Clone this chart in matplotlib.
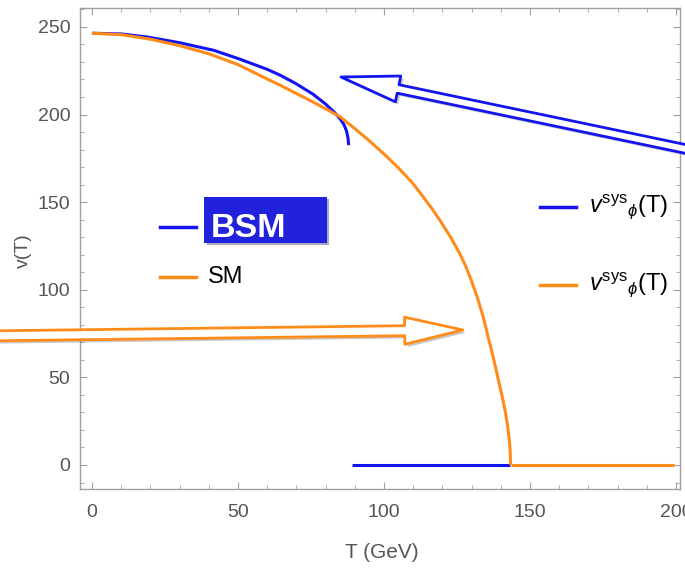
import matplotlib.pyplot as plt
import matplotlib.patheffects as pe
from matplotlib.patches import Rectangle
from matplotlib.ticker import MultipleLocator

# values
T_bsm = [0, 10, 18.7, 30, 41.6, 50, 60, 64.4, 70, 75.8, 80, 83, 85, 86.3, 87.2, 87.7, 87.9]
v_bsm = [246.4, 246.0, 244.3, 241.0, 236.7, 232.0, 225.8, 222.5, 217.5, 211.5, 206.0,
         201.3, 197.5, 194.3, 190.5, 186.5, 182.5]
T_bsm_zero = [89.2, 143.3]
v_bsm_zero = [0, 0]

T_sm = [0, 10, 20, 30, 40, 50, 60, 64.4, 70, 75, 80, 85, 90, 95, 100, 105, 110, 113,
        116.8, 120, 123, 126, 128, 130, 132, 134, 136, 137.5, 139, 140.5, 141.5, 142.3,
        142.9, 143.2, 143.4]
v_sm = [246.4, 245.6, 243.0, 239.3, 234.7, 228.5, 220.3, 216.8, 212.0, 207.8, 203.3,
        198.7, 192.0, 185.0, 177.5, 169.5, 160.5, 154.0, 145.5, 137.5, 129.5, 120.5,
        113.5, 105.0, 95.5, 84.5, 71.0, 61.0, 50.0, 39.0, 31.0, 23.0, 15.0, 9.0, 0]
T_sm_zero = [143.4, 199.5]
v_sm_zero = [0, 0]

blue = '#1414F0'
orange = '#FF8C1A'
grey = '#A0A0A0'

plt.rcParams['font.family'] = ['Liberation Sans', 'DejaVu Sans']
plt.rcParams['mathtext.fontset'] = 'custom'
plt.rcParams['mathtext.rm'] = 'Liberation Sans'
plt.rcParams['mathtext.it'] = 'Liberation Sans:italic'

fig = plt.figure(figsize=(6.85, 5.68), dpi=100)
ax = fig.add_axes([80 / 685, 1 - 489 / 568, 600 / 685, 481 / 568])

ax.plot(T_bsm, v_bsm, color=blue, lw=2.2, solid_capstyle='butt')
ax.plot(T_bsm_zero, v_bsm_zero, color=blue, lw=2.2, solid_capstyle='butt')
ax.plot(T_sm, v_sm, color=orange, lw=2.2, solid_capstyle='butt')
ax.plot(T_sm_zero, v_sm_zero, color=orange, lw=2.2, solid_capstyle='butt')

ax.set_xlim(-4.1, 201.4)
ax.set_ylim(-13.7, 260.8)
ax.xaxis.set_major_locator(MultipleLocator(50))
ax.xaxis.set_minor_locator(MultipleLocator(10))
ax.yaxis.set_major_locator(MultipleLocator(50))
ax.yaxis.set_minor_locator(MultipleLocator(10))
ax.tick_params(which='both', direction='in', top=True, right=True, color=grey,
               labelcolor='#555555', labelsize=14)
ax.tick_params(which='major', length=5, width=0.8)
ax.tick_params(which='minor', length=3, width=0.6)
ax.tick_params(axis='x', pad=11)
ax.tick_params(axis='y', pad=7)
for s in ax.spines.values():
    s.set_color(grey)
    s.set_linewidth(1.0)

fig.text(23, 568 - 251, 'v(T)', transform=None, rotation=90, ha='center', va='center',
         color='#555555', fontsize=14)
fig.text(382, 568 - 552, 'T (GeV)', transform=None, ha='center', va='center',
         color='#555555', fontsize=15)

# left legend
fig.add_artist(plt.Line2D([160, 196], [568 - 226.5] * 2, transform=None, color=blue, lw=2.5))
fig.add_artist(plt.Line2D([160, 196], [568 - 277] * 2, transform=None, color=orange, lw=2.5))
fig.text(208, 568 - 277, 'SM', transform=None, ha='left', va='center', fontsize=17,
         color='black')
box = Rectangle((204, 568 - 242.5), 122.5, 46, transform=None, facecolor='#2222DD',
                edgecolor='none',
                path_effects=[pe.SimplePatchShadow(offset=(2, -2), alpha=0.35), pe.Normal()])
fig.add_artist(box)
fig.text(211, 568 - 237, 'BSM', transform=None, ha='left', va='baseline', fontsize=24.5,
         fontweight='bold', color='white')

# right legend
sys_label = r'$v^{\mathrm{sys}}{}_{\phi}(\mathrm{T})$'
fig.add_artist(plt.Line2D([540, 576], [568 - 207] * 2, transform=None, color=blue, lw=2.5))
fig.add_artist(plt.Line2D([540, 576], [568 - 285] * 2, transform=None, color=orange, lw=2.5))
fig.text(589, 568 - 207, sys_label, transform=None, ha='left', va='center', fontsize=17)
fig.text(589, 568 - 285, sys_label, transform=None, ha='left', va='center', fontsize=17)

# hollow arrows
shadow = [pe.SimplePatchShadow(offset=(2, -2), alpha=0.3), pe.Normal()]
ax.annotate('', xy=(341, 568 - 77), xycoords='figure pixels',
            xytext=(700, 568 - 152), textcoords='figure pixels',
            arrowprops=dict(arrowstyle='simple,head_length=4.2,head_width=1.9,tail_width=0.62',
                            mutation_scale=10, fc='white', ec=blue, lw=2,
                            shrinkA=0, shrinkB=0, path_effects=shadow),
            annotation_clip=False)
ax.annotate('', xy=(463, 568 - 330), xycoords='figure pixels',
            xytext=(-20, 568 - 336), textcoords='figure pixels',
            arrowprops=dict(arrowstyle='simple,head_length=4.2,head_width=1.95,tail_width=0.72',
                            mutation_scale=10, fc='white', ec=orange, lw=2,
                            shrinkA=0, shrinkB=0, path_effects=shadow),
            annotation_clip=False)

fig.savefig('out.png', dpi=100)
